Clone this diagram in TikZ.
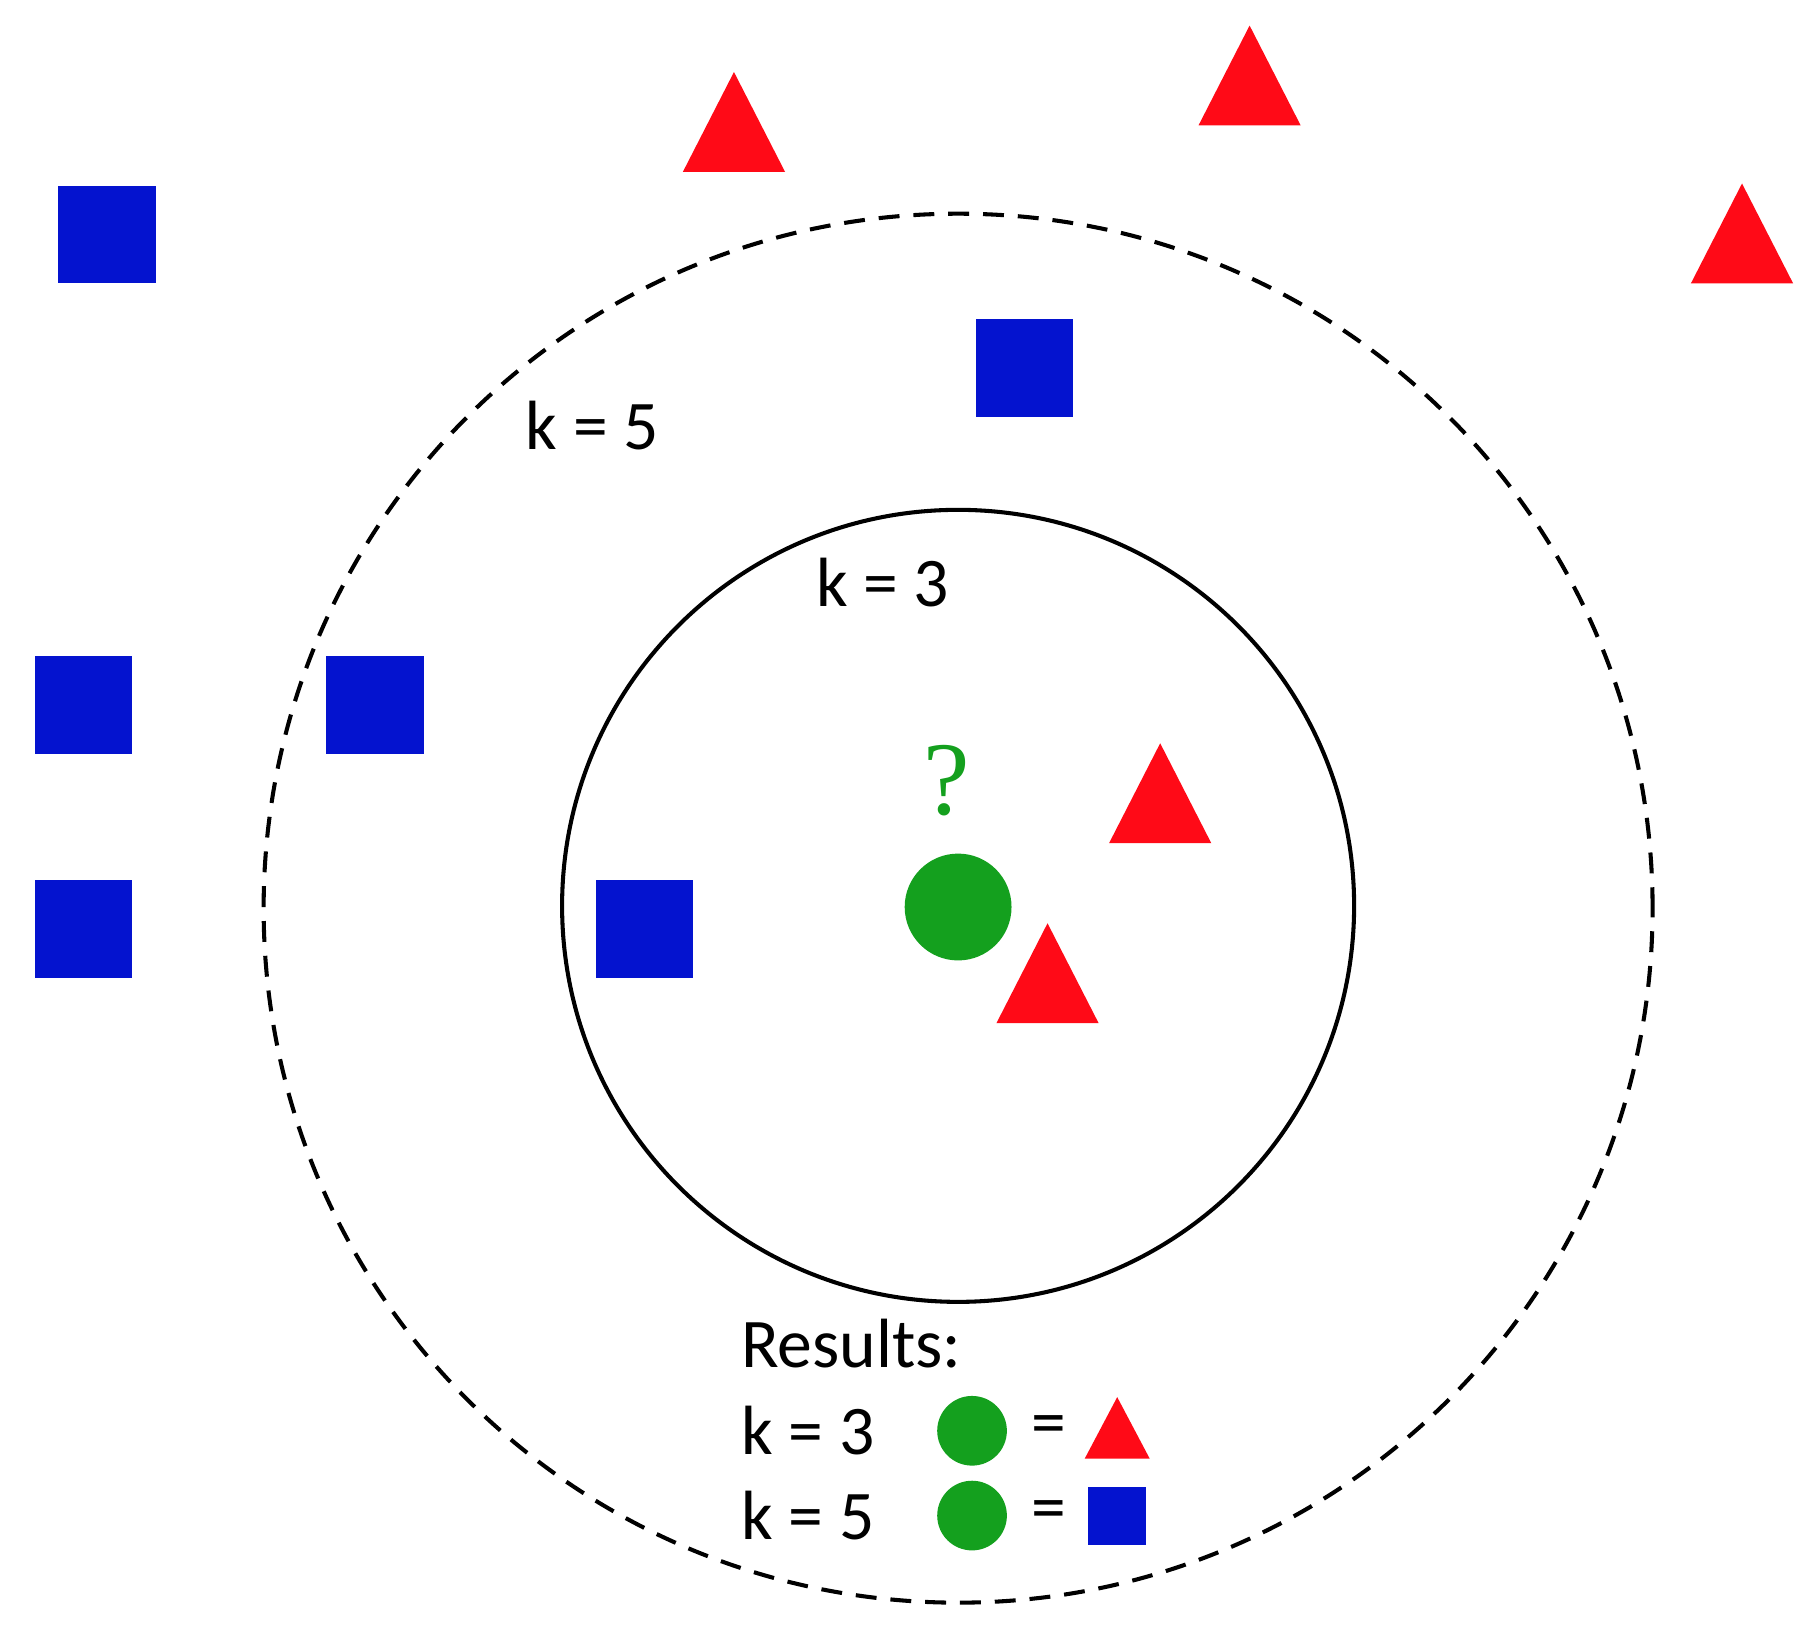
\documentclass[tikz,border=0pt]{standalone}
\usepackage{fontspec}
\setmainfont{Carlito}
\newfontfamily\serifq{Liberation Serif}
\definecolor{sqblue}{HTML}{0413CF}
\definecolor{trred}{HTML}{FF0A17}
\definecolor{gr}{HTML}{14A01E}
\begin{document}
\begin{tikzpicture}[x=1pt,y=-1pt,
  sq/.style={fill=sqblue,draw=none,minimum size=84pt,inner sep=0pt},
  sqs/.style={fill=sqblue,draw=none,minimum size=50pt,inner sep=0pt},
  lbl/.style={font=\fontsize{60}{72}\selectfont,inner sep=0pt},
  tri/.style={fill=trred,draw=none}]
\useasboundingbox (0,0) rectangle (1562,1403);
\node[draw,dashed,dash pattern=on 18pt off 12pt,line width=3.5pt,circle,minimum size=1196pt] (outer) at (825,782) {};
\node[draw,line width=3.5pt,circle,minimum size=682pt] (inner) at (825,780) {};
\foreach \n/\x/\y in {s1/92/202,s2/882/317,s3/72/607,s4/323/607,s5/72/800,s6/555/800}
  \node[sq] (\n) at (\x,\y) {};
\foreach \x/\y in {632/62,1076/22,1500/158,999/640,902/795}
  \fill[tri] (\x,\y) -- (\x+44,\y+86) -- (\x-44,\y+86) -- cycle;
\node[circle,fill=gr,minimum size=92pt,inner sep=0pt] (q) at (825,781) {};
\node[text=gr,font=\serifq\fontsize{90}{100}\selectfont,inner sep=0pt] (qm) at (815,672) {?};
\node[lbl] (k5) at (510,366) {k = 5};
\node[lbl] (k3) at (760,502) {k = 3};
\node[lbl,anchor=west] (res) at (638,1157) {Results:};
\node[lbl,anchor=west] (r3) at (638,1232) {k = 3};
\node[lbl,anchor=west] (r5) at (638,1305) {k = 5};
\node[circle,fill=gr,minimum size=60pt,inner sep=0pt] (c3) at (837,1232) {};
\node[circle,fill=gr,minimum size=60pt,inner sep=0pt] (c5) at (837,1305) {};
\node[lbl] (e3) at (903,1232) {=};
\node[lbl] (e5) at (903,1305) {=};
\fill[tri] (962,1203) -- (990,1256) -- (934,1256) -- cycle;
\node[sqs] (s7) at (962,1305) {};
\end{tikzpicture}
\end{document}
